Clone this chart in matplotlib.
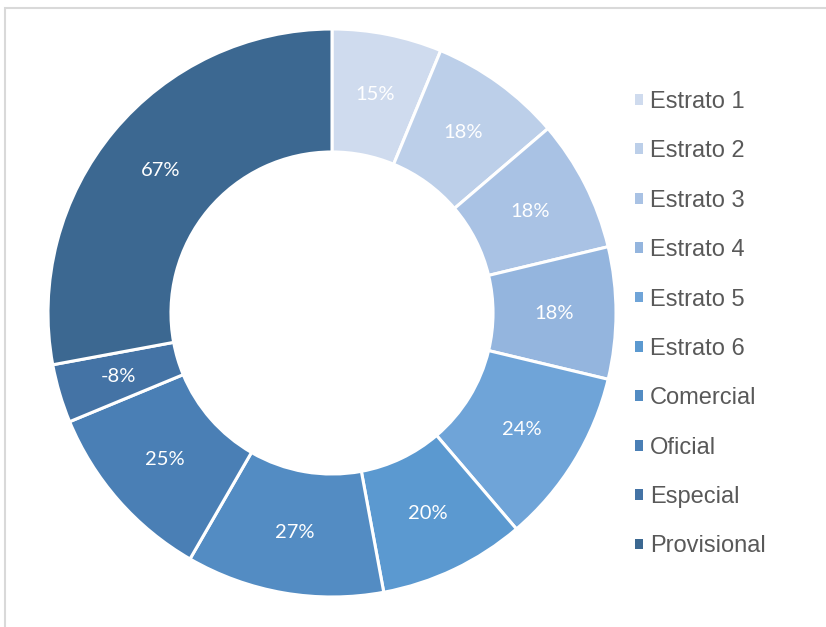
import matplotlib
matplotlib.use("Agg")
import matplotlib.pyplot as plt
import numpy as np
from matplotlib.patches import Patch, Rectangle

# data
categories = ["Estrato 1", "Estrato 2", "Estrato 3", "Estrato 4", "Estrato 5",
              "Estrato 6", "Comercial", "Oficial", "Especial", "Provisional"]
values = [15, 18, 18, 18, 24, 20, 27, 25, -8, 67]
colors = ["#cfdbee", "#bccfe9", "#a9c2e4", "#94b5de", "#6fa4d8",
          "#5b99d0", "#538cc3", "#4a7fb5", "#4473a5", "#3c6891"]

fig = plt.figure(figsize=(8.26, 6.27), dpi=100)

# light border of the chart area (cut off at right / bottom)
fig.patches.append(Rectangle((5 / 826, -0.2), 1.2, 1 - 8 / 627 + 0.2,
                             transform=fig.transFigure, fill=False,
                             edgecolor="#d9d9d9", linewidth=1.5))

ax = fig.add_axes([48 / 826, 30 / 627, 568 / 826, 568 / 627])
sizes = [abs(v) for v in values]
wedges, _ = ax.pie(sizes, colors=colors, startangle=90, counterclock=False,
                   radius=1.0,
                   wedgeprops=dict(width=0.433, edgecolor="white", linewidth=2.2))

# percentage labels in the middle of the ring
mid = 1 - 0.433 / 2
for w, v in zip(wedges, values):
    ang = np.deg2rad((w.theta1 + w.theta2) / 2)
    ax.text(mid * np.cos(ang), mid * np.sin(ang), f"{v}%", ha="center",
            va="center", color="white", fontsize=14.5, family="Lato")

ax.set_xlim(-1, 1)
ax.set_ylim(-1, 1)
ax.set_aspect("equal")
ax.axis("off")

handles = [Patch(facecolor=c, edgecolor="none") for c in colors]
leg = fig.legend(handles, categories, loc="upper left",
                 bbox_to_anchor=(635 / 826, 1 - 91 / 627), frameon=False,
                 prop=dict(family="Liberation Sans", size=17),
                 labelcolor="#595959", handlelength=0.33, handleheight=0.33,
                 handletextpad=0.3, labelspacing=1.16, borderpad=0, borderaxespad=0)

fig.savefig("out.png", dpi=100)
